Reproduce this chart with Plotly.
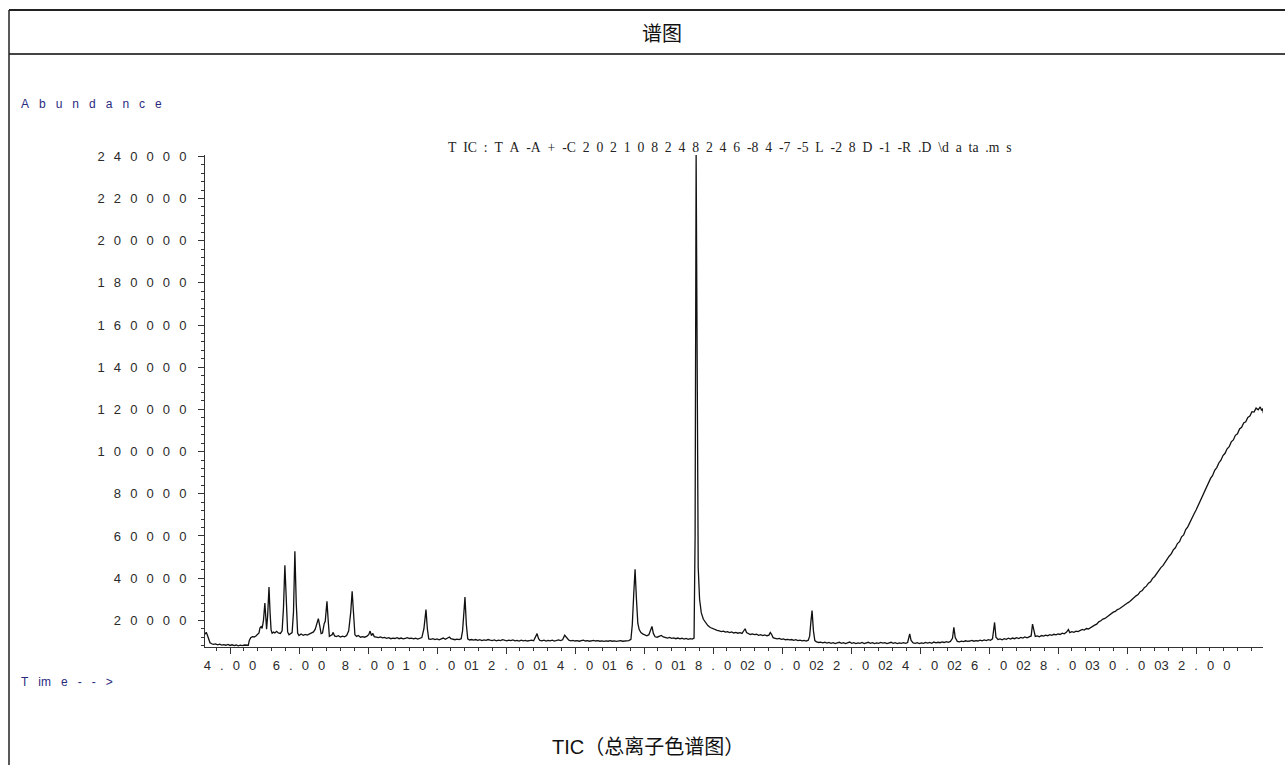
import plotly.graph_objects as go

# ---------------- data ----------------
rt_early = [3.28, 3.31, 3.34, 3.38, 3.42, 3.47, 3.52, 3.58, 3.64, 3.70, 3.76, 3.82, 3.88, 3.94, 4.00,
            4.06, 4.12, 4.18, 4.24, 4.30, 4.36, 4.42, 4.48, 4.53, 4.56, 4.60, 4.65, 4.70, 4.75, 4.80,
            4.84, 4.87, 4.90, 4.93, 4.97, 5.01, 5.04, 5.06, 5.09, 5.13, 5.16, 5.19, 5.22, 5.26, 5.30,
            5.35, 5.40, 5.46, 5.51, 5.55, 5.59, 5.63, 5.67, 5.71, 5.75, 5.80, 5.84, 5.88, 5.92, 5.96,
            6.00, 6.06, 6.12, 6.18, 6.24, 6.30, 6.36, 6.42, 6.47, 6.52, 6.56, 6.60, 6.64, 6.68, 6.71,
            6.73, 6.76, 6.81, 6.85, 6.88, 6.92, 6.96, 6.99, 7.03, 7.08, 7.14, 7.20, 7.26, 7.32, 7.38,
            7.44, 7.50, 7.54, 7.58, 7.62, 7.67, 7.72, 7.78, 7.84, 7.90, 7.96, 8.02, 8.06, 8.10, 8.14,
            8.18, 8.24, 8.30, 8.36, 8.42, 8.48, 8.54, 8.60, 8.66, 8.72, 8.78, 8.84, 8.90, 8.96, 9.02,
            9.08, 9.14, 9.20, 9.26, 9.32, 9.38, 9.44, 9.50, 9.56, 9.62, 9.68, 9.72, 9.76, 9.82, 9.88,
            9.94, 10.00, 10.06, 10.12, 10.18, 10.24, 10.30, 10.36, 10.40, 10.46, 10.52, 10.58, 10.64,
            10.70, 10.74, 10.78, 10.81, 10.85, 10.89, 10.94, 11.00]
tic_early = [13400, 14300, 13200, 11000, 9400, 8900, 8600, 8800, 8400, 8700, 8300, 8500, 8200, 8600, 8100,
             8400, 8000, 8300, 7900, 8200, 8000, 8300, 8100, 8200, 10500, 11800, 12300, 12100, 12600, 13600,
             14000, 16500, 17000, 16200, 20000, 28200, 19000, 15800, 22000, 35800, 24000, 15500, 13900, 14400, 14000,
             14800, 14000, 13800, 15000, 26000, 46100, 30000, 14500, 13200, 13600, 14200, 24000, 52700, 28000, 14000,
             12800, 13500, 12900, 13300, 13000, 13600, 13900, 14500, 15800, 18500, 20800, 17500, 13700, 14000, 17500,
             18400, 19500, 29000, 19000, 12400, 12800, 13200, 14300, 12600, 12300, 12700, 12100, 12500, 12200, 12800,
             15000, 24000, 33800, 22000, 13200, 12400, 12800, 12000, 12300, 12000, 12400, 13200, 14900, 12800, 13800,
             12300, 12000, 11800, 12100, 11700, 11900, 11500, 11800, 11300, 11600, 11400, 11800, 11300, 11600, 11200,
             11500, 11800, 11400, 11600, 11200, 11500, 11100, 11400, 11800, 16000, 25100, 16000, 11200, 11000, 11300,
             10900, 11200, 10800, 11100, 11600, 11000, 11400, 12100, 11300, 11000, 10800, 11100, 10900,
             11300, 15000, 24000, 31000, 18000, 11200, 10700, 10900]

rt_mid = [11.06, 11.12, 11.18, 11.24, 11.30, 11.36, 11.42, 11.48, 11.54, 11.60, 11.66, 11.72, 11.78, 11.84,
          11.90, 11.96, 12.02, 12.08, 12.14, 12.20, 12.26, 12.32, 12.38, 12.44, 12.50, 12.56, 12.62, 12.68,
          12.74, 12.80, 12.86, 12.90, 12.94, 12.98, 13.04, 13.10, 13.16, 13.22, 13.28, 13.34, 13.40, 13.46,
          13.52, 13.58, 13.64, 13.70, 13.76, 13.82, 13.88, 13.94, 14.00, 14.06, 14.12, 14.18, 14.24, 14.30,
          14.36, 14.42, 14.48, 14.54, 14.60, 14.66, 14.72, 14.78, 14.84, 14.90, 14.96, 15.02, 15.08, 15.14,
          15.20, 15.26, 15.32, 15.38, 15.44, 15.50, 15.56, 15.62, 15.66, 15.70, 15.74, 15.78, 15.82, 15.86,
          15.91, 15.96, 16.02, 16.08, 16.14, 16.19, 16.23, 16.27, 16.32, 16.38, 16.44, 16.50, 16.56, 16.62,
          16.68, 16.74, 16.80, 16.86, 16.92, 16.98, 17.04, 17.10, 17.16, 17.22, 17.28, 17.34, 17.40, 17.45,
          17.48, 17.51, 17.54, 17.57, 17.61, 17.66, 17.72, 17.78, 17.85, 17.92, 17.99, 18.06, 18.12, 18.18,
          18.24, 18.30, 18.36, 18.42, 18.48, 18.54, 18.60, 18.66, 18.72, 18.78, 18.84, 18.90, 18.93, 18.97,
          19.02, 19.08, 19.14, 19.20, 19.26, 19.32, 19.38, 19.44, 19.50, 19.56, 19.62, 19.66, 19.70, 19.74,
          19.80, 19.86, 19.92, 19.98, 20.04, 20.10, 20.16, 20.22, 20.28, 20.34, 20.40, 20.46, 20.52, 20.58,
          20.64, 20.70, 20.76, 20.80, 20.84, 20.87, 20.91, 20.95]
tic_mid = [10600, 10900, 10500, 10800, 10400, 10700, 10500, 10900, 10600, 10400, 10700, 10300, 10600, 10400,
           10800, 10500, 10300, 10600, 10400, 10700, 10300, 10500, 10200, 10600, 10300, 10500, 10200, 10400,
           10600, 10300, 12600, 13700, 11400, 10500, 10300, 10600, 10200, 10500, 10300, 10600, 10200, 10400,
           10700, 10400, 10800, 12900, 11600, 10600, 10300, 10500, 10200, 10400, 10100, 10300, 10600, 10200,
           10400, 10100, 10300, 10500, 10200, 10400, 10100, 10300, 10000, 10300, 10100, 10400, 10100, 10300,
           10000, 10200, 10400, 10100, 10300, 10200, 10400, 11000, 18000, 32000, 44200, 30000, 18500, 15600,
           14200, 13600, 13000, 12700, 13200, 15500, 17100, 13800, 12200, 12000, 12500, 12800, 12100, 11800,
           11600, 11900, 11500, 11700, 11300, 11600, 11200, 11500, 11100, 11400, 11000, 11300, 11100, 11600,
           60000, 240800, 120000, 45000, 30000, 23500, 20500, 18800, 17500, 16600, 16000, 15600, 15200, 15000,
           14700, 14900, 14400, 14600, 14200, 14500, 14000, 14300, 13900, 14200, 13800, 15300, 16000, 14200,
           13600, 13300, 13600, 13200, 13400, 12900, 13200, 12800, 13100, 12700, 13000, 14200, 13300, 11800,
           11500, 11200, 11400, 11000, 11200, 10800, 11000, 10700, 10900, 10500, 10800, 10400, 10600, 10300,
           10500, 10200, 10600, 12500, 20000, 24600, 15000, 10400]

rt_late = [21.00, 21.06, 21.12, 21.18, 21.24, 21.30, 21.36, 21.42, 21.48, 21.54, 21.60, 21.66, 21.72, 21.78,
           21.84, 21.90, 21.96, 22.02, 22.08, 22.14, 22.20, 22.26, 22.32, 22.38, 22.44, 22.50, 22.56, 22.62,
           22.68, 22.74, 22.80, 22.86, 22.92, 22.98, 23.04, 23.10, 23.16, 23.22, 23.28, 23.34, 23.40, 23.46,
           23.52, 23.58, 23.64, 23.70, 23.74, 23.80, 23.86, 23.92, 23.98, 24.04, 24.10, 24.16, 24.22, 24.28,
           24.34, 24.40, 24.46, 24.52, 24.58, 24.64, 24.70, 24.76, 24.82, 24.88, 24.94, 24.98, 25.02, 25.08,
           25.14, 25.20, 25.26, 25.32, 25.38, 25.44, 25.50, 25.56, 25.62, 25.68, 25.74, 25.80, 25.86, 25.92,
           25.98, 26.04, 26.10, 26.16, 26.20, 26.26, 26.32, 26.38, 26.44, 26.50, 26.56, 26.62, 26.68, 26.74,
           26.80, 26.86, 26.92, 26.98, 27.04, 27.10, 27.16, 27.22, 27.26, 27.30, 27.34, 27.40, 27.46, 27.52,
           27.58, 27.64, 27.70, 27.76, 27.82, 27.88, 27.94, 28.00, 28.06, 28.12, 28.18, 28.24, 28.30, 28.34,
           28.40, 28.46, 28.52, 28.58]
tic_late = [9800, 9500, 9700, 9300, 9600, 9200, 9500, 9100, 9400, 9000, 9300, 9600, 9100, 9400,
            9000, 9300, 9700, 9100, 9400, 9000, 9300, 9100, 9500, 9000, 9300, 9600, 9100, 9400,
            9000, 9300, 9100, 9500, 9200, 9400, 9000, 9300, 9600, 9100, 9400, 9000, 9300, 9100,
            9400, 9100, 9500, 13600, 10500, 9300, 9100, 9400, 9000, 9300, 9100, 9500, 9200, 9500,
            9100, 9700, 9300, 9600, 9400, 9800, 9500, 9900, 9600, 10000, 11500, 16700, 11800, 10000,
            9800, 10100, 9900, 10300, 10000, 10200, 10500, 10100, 10400, 10200, 10600, 10300, 10700, 10400,
            10800, 10500, 11200, 19000, 12000, 10900, 11200, 10800, 11300, 11000, 11500, 11100, 11600, 11300,
            11800, 11400, 11900, 11600, 12100, 11700, 12300, 12600, 18200, 15000, 12400, 12600, 12200, 12800,
            12500, 13000, 12700, 13200, 12900, 13400, 13100, 13600, 13300, 13900, 13600, 14300, 15600, 14200,
            14600, 14300, 14900, 14700]

rt_ramp = [28.64, 28.70, 28.76, 28.82, 28.88, 28.94, 29.00, 29.06, 29.12, 29.18, 29.24, 29.30, 29.36, 29.42,
           29.48, 29.54, 29.60, 29.66, 29.72, 29.78, 29.84, 29.90, 29.96, 30.02, 30.08, 30.14, 30.20, 30.26,
           30.32, 30.38, 30.44, 30.50, 30.56, 30.62, 30.68, 30.74, 30.80, 30.86, 30.92, 30.98, 31.04, 31.10,
           31.16, 31.22, 31.28, 31.34, 31.40, 31.46, 31.52, 31.58, 31.64, 31.70, 31.76, 31.82, 31.88, 31.94,
           32.00, 32.06, 32.12, 32.18, 32.24, 32.30, 32.36, 32.42, 32.48, 32.54, 32.60, 32.66, 32.72, 32.78,
           32.84, 32.90, 32.96, 33.02, 33.08, 33.14, 33.20, 33.26, 33.32, 33.38, 33.44, 33.50, 33.56, 33.62,
           33.68, 33.74, 33.80, 33.86, 33.90, 33.93, 33.95]
tic_ramp = [15200, 15700, 15400, 16100, 15900, 16600, 16900, 17700, 18200, 19300, 19800, 20600, 20900, 21700,
            22400, 22900, 23900, 24200, 25100, 25500, 26300, 26700, 27600, 28300, 28900, 29900, 30500, 31600,
            32200, 33600, 34100, 35500, 36200, 37600, 38300, 39900, 40800, 42300, 43200, 45000, 45900, 47600,
            48700, 50400, 51500, 53400, 54400, 56400, 57300, 59600, 60500, 63000, 64300, 66600, 68100, 70400,
            72300, 74500, 76600, 78900, 80900, 83300, 84900, 87300, 88700, 91100, 92400, 94600, 95900, 98100,
            99200, 101300, 102300, 104600, 105500, 107700, 108400, 110700, 111500, 113600, 114100, 116200, 116800, 118900,
            118700, 120600, 119800, 121200, 119500, 120400, 118200]

x_tick_values = [4, 6, 8, 10, 12, 14, 16, 18, 20, 22, 24, 26, 28, 30, 32]
x_tick_labels = ["4.00", "6.00", "8.00", "10.00", "12.00", "14.00", "16.00", "18.00", "20.00",
                 "22.00", "24.00", "26.00", "28.00", "30.00", "32.00"]
y_tick_values = [20000, 40000, 60000, 80000, 100000, 120000, 140000, 160000, 180000, 200000, 220000, 240000]
y_tick_labels = ["20000", "40000", "60000", "80000", "100000", "120000", "140000", "160000",
                 "180000", "200000", "220000", "240000"]

header_title = "谱图"
trace_title = "T IC : T A -A + -C 2 0 2 1 0 8 2 4 8 2 4 6 -8 4 -7 -5 L -2 8 D -1 -R .D \\d a ta .m s"
caption = "TIC（总离子色谱图）"

# ---------------- figure ----------------
W, H = 1285, 765
SEP = "\u2002\u2009"


def spaced(s, sep=SEP):
    return sep.join(list(s))


rt = rt_early + rt_mid + rt_late + rt_ramp
tic = tic_early + tic_mid + tic_late + tic_ramp


def px_x(px):
    return px / W


def px_y(py):
    return 1 - py / H


fig = go.Figure()
fig.add_trace(go.Scatter(x=rt, y=tic, mode="lines",
                         line=dict(color="#111111", width=1.3),
                         hoverinfo="skip", showlegend=False))

axis_font = dict(family="Liberation Sans, Arial, sans-serif", size=13, color="#2a2a2a")

fig.update_layout(
    width=W, height=H, autosize=False,
    margin=dict(l=0, r=0, t=0, b=0, pad=0),
    paper_bgcolor="white", plot_bgcolor="white",
    showlegend=False,
    xaxis=dict(
        domain=[px_x(205), px_x(1263)],
        range=[3.275, 33.94],
        tickmode="array", tickvals=x_tick_values,
        ticktext=[spaced(s) for s in x_tick_labels],
        tickangle=0, automargin=False,
        ticks="outside", ticklen=6, tickwidth=1, tickcolor="#333333",
        showline=True, linecolor="#333333", linewidth=1,
        showgrid=False, zeroline=False, tickfont=axis_font,
        minor=dict(tickmode="linear", tick0=4, dtick=0.4, ticks="outside", ticklen=3,
                   tickcolor="#333333", showgrid=False),
    ),
    yaxis=dict(
        domain=[px_y(647), px_y(155)],
        range=[7360, 240600],
        tickmode="array", tickvals=y_tick_values,
        ticktext=[spaced(s) for s in y_tick_labels],
        automargin=False,
        ticks="outside", ticklen=6, tickwidth=1, tickcolor="#333333",
        showline=True, linecolor="#333333", linewidth=1,
        showgrid=False, zeroline=False, tickfont=axis_font,
        ticklabelstandoff=9,
        minor=dict(tickmode="linear", tick0=0, dtick=4000, ticks="outside", ticklen=3,
                   tickcolor="#333333", showgrid=False),
    ),
)

# frame lines of the report table
line_col = "#222222"
fig.add_shape(type="line", xref="paper", yref="paper", x0=px_x(9), x1=1.0, y0=px_y(10), y1=px_y(10),
              line=dict(color=line_col, width=2))
fig.add_shape(type="line", xref="paper", yref="paper", x0=px_x(9), x1=1.0, y0=px_y(54), y1=px_y(54),
              line=dict(color="#444444", width=2))
fig.add_shape(type="line", xref="paper", yref="paper", x0=px_x(9), x1=px_x(9), y0=px_y(10), y1=-0.01,
              line=dict(color=line_col, width=1.5))

navy = "#2A2A80"
fig.add_annotation(text=header_title, xref="paper", yref="paper", x=px_x(662), y=px_y(33),
                   xanchor="center", yanchor="middle", showarrow=False,
                   font=dict(family="Noto Sans CJK SC", size=20, color="#111111"))
fig.add_annotation(text=spaced("Abundance", "\u2002\u2004"), xref="paper", yref="paper",
                   x=px_x(19), y=px_y(104), xanchor="left", yanchor="middle", showarrow=False,
                   font=dict(family="Liberation Sans, Arial, sans-serif", size=12, color=navy))
fig.add_annotation(text="T\u2002\u2004im\u2002\u2004e\u2002\u2004-\u2002\u2004-\u2002\u2004>",
                   xref="paper", yref="paper",
                   x=px_x(19), y=px_y(682), xanchor="left", yanchor="middle", showarrow=False,
                   font=dict(family="Liberation Sans, Arial, sans-serif", size=12, color=navy))
fig.add_annotation(text=trace_title.replace(" ", "\u2002"), xref="paper", yref="paper",
                   x=px_x(730), y=px_y(147),
                   xanchor="center", yanchor="middle", showarrow=False,
                   font=dict(family="Liberation Serif, serif", size=13.7, color="#222222"))
fig.add_annotation(text=caption, xref="paper", yref="paper", x=px_x(648), y=px_y(747),
                   xanchor="center", yanchor="middle", showarrow=False,
                   font=dict(family="Liberation Sans, Noto Sans CJK SC, sans-serif", size=20, color="#111111"))

fig.write_html("out.html", config={"displayModeBar": False},
               post_script="document.body.style.margin='0';document.body.style.overflow='hidden';")
